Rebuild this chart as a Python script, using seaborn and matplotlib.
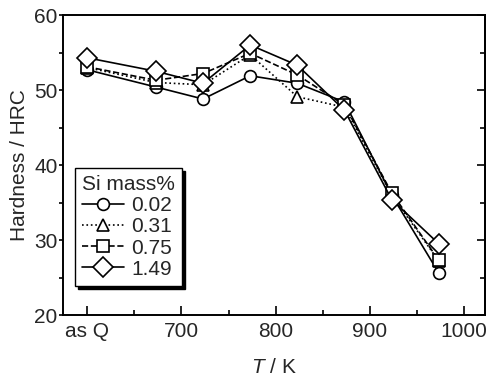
import matplotlib
matplotlib.use("Agg")
import matplotlib.pyplot as plt
import seaborn as sns
from matplotlib.ticker import MultipleLocator

temps = [600, 673, 723, 773, 823, 873, 923, 973]
tick_vals = [600, 700, 800, 900, 1000]
tick_labels = ["as Q", "700", "800", "900", "1000"]
si_labels = ["0.02", "0.31", "0.75", "1.49"]
h_002 = [52.7, 50.4, 48.8, 51.9, 50.9, 48.4, 36.0, 25.6]
h_031 = [53.0, 51.0, 50.7, 54.7, 49.1, 47.7, 36.0, 27.2]
h_075 = [53.1, 51.3, 52.2, 54.9, 52.0, 48.0, 36.3, 27.3]
h_149 = [54.3, 52.5, 50.9, 56.0, 53.3, 47.3, 35.4, 29.5]

sns.set_style("ticks")
plt.rcParams['font.family'] = ['Liberation Sans', 'DejaVu Sans']
plt.rcParams['mathtext.fontset'] = 'custom'
plt.rcParams['mathtext.it'] = 'Liberation Sans:italic'
plt.rcParams['mathtext.rm'] = 'Liberation Sans'
FS = 15

fig = plt.figure(figsize=(4.9, 3.81), dpi=100)
ax = fig.add_axes([0.1286, 0.1732, 0.8612, 0.7874])

series = [h_002, h_031, h_075, h_149]
markers = ["o", "^", "s", "D"]
styles = ["-", ":", "--", "-"]
msizes = [8.5, 8.5, 8.0, 10]
for vals, lab, m, ls, ms in zip(series, si_labels, markers, styles, msizes):
    sns.lineplot(x=temps, y=vals, ax=ax, label=lab, marker=m, linestyle=ls,
                 color="black", markerfacecolor="white", markeredgecolor="black",
                 markeredgewidth=1.2, markersize=ms, linewidth=1.2)

ax.set_xlim(574.5, 1022)
ax.set_ylim(20, 60)
ax.set_xticks(tick_vals)
ax.set_xticklabels(tick_labels)
ax.xaxis.set_minor_locator(MultipleLocator(50))
ax.yaxis.set_major_locator(MultipleLocator(10))
ax.yaxis.set_minor_locator(MultipleLocator(5))
ax.tick_params(axis="x", which="both", direction="in", top=False, labelsize=FS,
               color="black", width=1.2)
ax.tick_params(axis="x", which="major", length=6.5, pad=5)
ax.tick_params(axis="x", which="minor", length=3.5)
ax.tick_params(axis="y", which="both", direction="out", right=False, labelsize=FS,
               color="black", width=1.2, pad=1)
ax.tick_params(axis="y", which="major", length=3)
ax.tick_params(axis="y", which="minor", length=3)

sec = ax.secondary_yaxis("right")
sec.yaxis.set_major_locator(MultipleLocator(10))
sec.yaxis.set_minor_locator(MultipleLocator(5))
sec.tick_params(which="both", direction="in", labelright=False, color="black", width=1.2)
sec.tick_params(which="major", length=6)
sec.tick_params(which="minor", length=3.5)
sec.spines["right"].set_linewidth(1.4)
sec.spines["right"].set_color("black")

for sp in ax.spines.values():
    sp.set_visible(True)
    sp.set_linewidth(1.4)
    sp.set_color("black")

ax.set_xlabel(r"$T$ / K", fontsize=FS, labelpad=12)
ax.set_ylabel("Hardness / HRC", fontsize=FS, labelpad=4)

leg = ax.legend(title="Si mass%", loc="upper left", bbox_to_anchor=(0.028, 0.49),
                fontsize=FS, title_fontsize=FS, frameon=True, fancybox=False,
                edgecolor="black", framealpha=1, handlelength=2.0,
                handletextpad=0.35, labelspacing=0.1, borderpad=0.35,
                borderaxespad=0.0,
                shadow={'color': 'black', 'alpha': 1})
leg.get_frame().set_linewidth(1.0)
leg._legend_box.align = "left"

fig.savefig("out.png", dpi=100)
